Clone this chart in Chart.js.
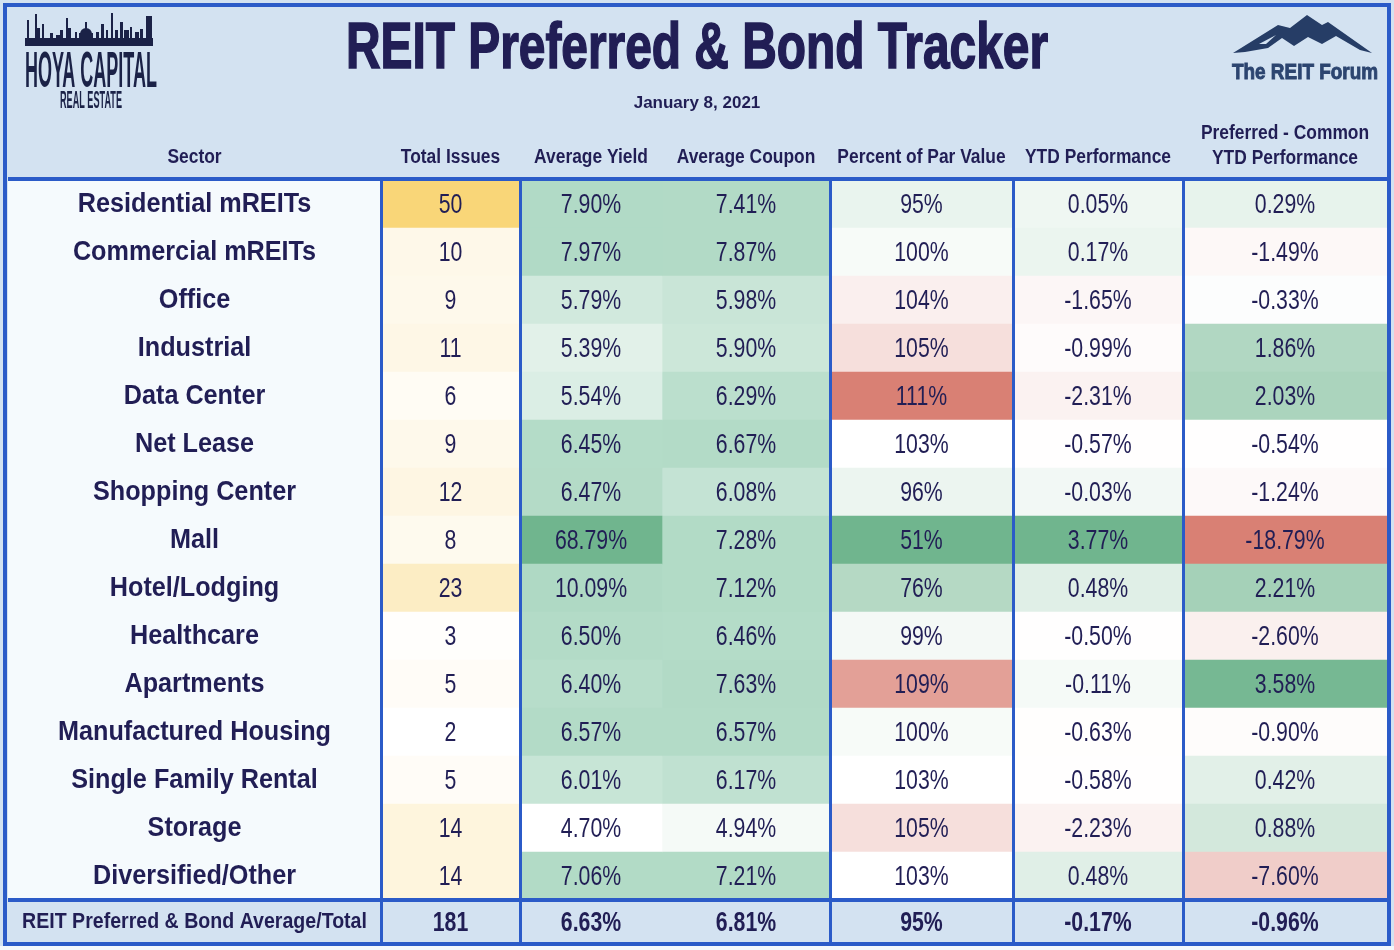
<!DOCTYPE html>
<html>
<head>
<meta charset="utf-8">
<title>REIT Preferred & Bond Tracker</title>
<script src="https://cdn.jsdelivr.net/npm/chart.js@4.4.1/dist/chart.umd.min.js"></script>
<style>
html, body { margin: 0; padding: 0; background: #ffffff; }
#wrap { width: 1394px; height: 950px; }
</style>
</head>
<body>
<div id="wrap"><canvas id="tracker" width="1394" height="950"></canvas></div>
<script>
const SECTORS = [
    'Residential mREITs', 'Commercial mREITs', 'Office', 'Industrial', 'Data Center',
    'Net Lease', 'Shopping Center', 'Mall', 'Hotel/Lodging', 'Healthcare',
    'Apartments', 'Manufactured Housing', 'Single Family Rental', 'Storage', 'Diversified/Other',
];
const TOTAL_ISSUES = [50, 10, 9, 11, 6, 9, 12, 8, 23, 3, 5, 2, 5, 14, 14];
const AVG_YIELD = [7.90, 7.97, 5.79, 5.39, 5.54, 6.45, 6.47, 68.79, 10.09, 6.50, 6.40, 6.57, 6.01, 4.70, 7.06];
const AVG_COUPON = [7.41, 7.87, 5.98, 5.90, 6.29, 6.67, 6.08, 7.28, 7.12, 6.46, 7.63, 6.57, 6.17, 4.94, 7.21];
const PAR_VALUE = [95, 100, 104, 105, 111, 103, 96, 51, 76, 99, 109, 100, 103, 105, 103];
const YTD_PERF = [0.05, 0.17, -1.65, -0.99, -2.31, -0.57, -0.03, 3.77, 0.48, -0.50, -0.11, -0.63, -0.58, -2.23, 0.48];
const PREF_COMMON = [0.29, -1.49, -0.33, 1.86, 2.03, -0.54, -1.24, -18.79, 2.21, -2.60, 3.58, -0.90, 0.42, 0.88, -7.60];

const TOTAL_LABEL = 'REIT Preferred & Bond Average/Total';
const TOTAL_ROW = [181, 6.63, 6.81, 95, -0.17, -0.96];

const HEADERS = ['Sector', 'Total Issues', 'Average Yield', 'Average Coupon', 'Percent of Par Value',
    'YTD Performance', ['Preferred - Common', 'YTD Performance']];

// ---- layout / style ----
const COL_WIDTHS = [373, 139, 142, 168, 183, 170, 204];
const DIVIDERS = [1, 2, 4, 5, 6];          // column edges that get a blue rule
const NAVY = '#211e55';
const BLUE = '#2b5bc8';
const HEAD_BG = '#d3e2f1';
const SECTOR_BG = '#f5fafd';
const WHITE = [255, 255, 255];
const YELLOW = [249, 214, 120];
const GREEN_MID = [179, 219, 199];
const GREEN = [112, 181, 142];
const RED = [217, 128, 116];

const SANS = '"Liberation Sans", Arial, Helvetica, sans-serif';

const edges = COL_WIDTHS.reduce((acc, w) => { acc.push(acc[acc.length - 1] + w); return acc; }, [0]);
const rowLabels = [...SECTORS, TOTAL_LABEL];

function median(values) {
    const s = [...values].sort((a, b) => a - b);
    const m = Math.floor(s.length / 2);
    return s.length % 2 ? s[m] : (s[m - 1] + s[m]) / 2;
}

function mix(a, b, t) {
    t = Math.max(0, Math.min(1, t));
    const c = a.map((v, i) => Math.round(v + (b[i] - v) * t));
    return `rgb(${c[0]},${c[1]},${c[2]})`;
}

// conditional-format style colour scales
function twoScale(v, lo, hi, c0, c1) { return mix(c0, c1, (v - lo) / (hi - lo)); }
function threeScale(v, lo, mid, hi, c0, c1, c2) {
    return v <= mid ? mix(c0, c1, (v - lo) / (mid - lo)) : mix(c1, c2, (v - mid) / (hi - mid));
}

const yc = [...AVG_YIELD, ...AVG_COUPON];
const ycMin = Math.min(...yc), ycMid = median(yc), ycMax = Math.max(...yc);
const perf = [...YTD_PERF, ...PREF_COMMON];
const pMin = Math.min(...perf), pMid = median(perf), pMax = Math.max(...perf);
const parMin = Math.min(...PAR_VALUE), parMid = median(PAR_VALUE), parMax = Math.max(...PAR_VALUE);
const issMin = Math.min(...TOTAL_ISSUES), issMax = Math.max(...TOTAL_ISSUES);

const pct2 = (v) => `${v.toFixed(2)}%`;
const columns = [
    { values: SECTORS, fmt: (v) => v, color: () => SECTOR_BG },
    { values: TOTAL_ISSUES, fmt: (v) => String(v), color: (v) => twoScale(v, issMin, issMax, WHITE, YELLOW) },
    { values: AVG_YIELD, fmt: pct2, color: (v) => threeScale(v, ycMin, ycMid, ycMax, WHITE, GREEN_MID, GREEN) },
    { values: AVG_COUPON, fmt: pct2, color: (v) => threeScale(v, ycMin, ycMid, ycMax, WHITE, GREEN_MID, GREEN) },
    { values: PAR_VALUE, fmt: (v) => `${v}%`, color: (v) => threeScale(v, parMin, parMid, parMax, GREEN, WHITE, RED) },
    { values: YTD_PERF, fmt: pct2, color: (v) => threeScale(v, pMin, pMid, pMax, RED, WHITE, GREEN) },
    { values: PREF_COMMON, fmt: pct2, color: (v) => threeScale(v, pMin, pMid, pMax, RED, WHITE, GREEN) },
];
const totalCells = [TOTAL_LABEL, String(TOTAL_ROW[0]), pct2(TOTAL_ROW[1]), pct2(TOTAL_ROW[2]),
    `${TOTAL_ROW[3]}%`, pct2(TOTAL_ROW[4]), pct2(TOTAL_ROW[5])];

const datasets = columns.map((col, c) => ({
    label: Array.isArray(HEADERS[c]) ? HEADERS[c].join(' ') : HEADERS[c],
    data: rowLabels.map(() => [edges[c], edges[c + 1]]),
    backgroundColor: [...col.values.map((v) => col.color(v)), HEAD_BG],
    borderWidth: 0,
    borderSkipped: false,
    grouped: false,
    barPercentage: 1,
    categoryPercentage: 1,
}));

// text squeezed horizontally, to mimic the condensed face of the original
function squeeze(ctx, text, x, y, font, sx, fitWidth, stroke) {
    ctx.save();
    ctx.font = font;
    ctx.translate(x, y);
    const s = fitWidth ? fitWidth / ctx.measureText(text).width : sx;
    ctx.scale(s, 1);
    ctx.fillText(text, 0, 0);
    if (stroke) ctx.strokeText(text, 0, 0);
    ctx.restore();
}

function drawSkyline(ctx) {
    ctx.fillStyle = '#1b2247';
    ctx.fillRect(25, 38, 128, 8);
    const towers = [[27, 2, 20], [35, 2, 14], [37, 3, 28], [42, 2, 24], [50, 3, 33], [56, 4, 35], [60, 3, 30],
        [66, 2, 18], [68, 3, 28], [75, 2, 32], [96, 3, 32], [101, 3, 24], [106, 2, 30], [111, 2, 13],
        [115, 3, 30], [120, 3, 22], [124, 5, 30], [130, 2, 27], [135, 4, 32], [140, 3, 29], [146, 6, 16]];
    towers.forEach(([x, w, top]) => ctx.fillRect(x, top, w, 39 - top));
    ctx.beginPath();
    ctx.arc(86, 34, 6, Math.PI, 0);
    ctx.fill();
    ctx.fillRect(79, 33, 14, 6);
    ctx.fillRect(85, 22, 2, 8);

    ctx.textAlign = 'center';
    ctx.textBaseline = 'alphabetic';
    squeeze(ctx, 'HOYA CAPITAL', 91, 87, `bold 50px ${SANS}`, 1, 132);
    squeeze(ctx, 'REAL ESTATE', 91, 108, `bold 23px ${SANS}`, 1, 62);
}

function drawMountain(ctx) {
    ctx.fillStyle = '#263d66';
    const pts = [[1233, 53], [1278, 25], [1290, 28], [1307, 15], [1322, 25], [1328, 22], [1372, 53],
        [1360, 50], [1336, 36], [1322, 44], [1308, 37], [1294, 46], [1282, 38], [1268, 48], [1245, 52]];
    ctx.beginPath();
    pts.forEach(([x, y], i) => (i ? ctx.lineTo(x, y) : ctx.moveTo(x, y)));
    ctx.closePath();
    ctx.fill();
    ctx.fillStyle = HEAD_BG;
    ctx.beginPath();
    ctx.moveTo(1259, 44);
    ctx.lineTo(1276, 35);
    ctx.lineTo(1266, 44);
    ctx.closePath();
    ctx.fill();
    ctx.fillStyle = '#2c4570';
    ctx.strokeStyle = '#2c4570';
    ctx.lineWidth = 0.9;
    ctx.textAlign = 'center';
    ctx.textBaseline = 'alphabetic';
    squeeze(ctx, 'The REIT Forum', 1305, 79, `bold 22px ${SANS}`, 1, 146, true);
}

const tableDecor = {
    id: 'tableDecor',
    beforeDraw(chart) {
        const { ctx, width, height } = chart;
        ctx.save();
        ctx.fillStyle = HEAD_BG;
        ctx.fillRect(0, 0, width, height);
        ctx.restore();
    },
    afterDatasetsDraw(chart) {
        const { ctx } = chart;
        const last = rowLabels.length - 1;
        ctx.save();
        ctx.fillStyle = NAVY;
        ctx.textAlign = 'center';
        ctx.textBaseline = 'middle';
        columns.forEach((col, c) => {
            chart.getDatasetMeta(c).data.forEach((el, i) => {
                const cx = (el.x + el.base) / 2;
                if (i === last) {
                    if (c === 0) squeeze(ctx, totalCells[c], cx, el.y - 2, `bold 22px ${SANS}`, 0.89);
                    else squeeze(ctx, totalCells[c], cx, el.y - 1, `bold 28px ${SANS}`, 0.76);
                } else if (c === 0) {
                    squeeze(ctx, col.fmt(col.values[i]), cx, el.y, `bold 28px ${SANS}`, 0.9);
                } else {
                    squeeze(ctx, col.fmt(col.values[i]), cx, el.y + 1, `28px ${SANS}`, 0.76);
                }
            });
        });
        ctx.restore();
    },
    afterDraw(chart) {
        const { ctx, chartArea, scales, width, height } = chart;
        const els = chart.getDatasetMeta(0).data;
        const footTop = els[els.length - 1].y - els[els.length - 1].height / 2;
        ctx.save();

        // page margin below the frame
        ctx.fillStyle = '#f4f8fc';
        ctx.fillRect(0, 946, width, height - 946);

        // rules
        ctx.strokeStyle = BLUE;
        ctx.lineWidth = 3;
        DIVIDERS.forEach((k) => {
            const x = Math.round(scales.x.getPixelForValue(edges[k])) + 0.5;
            ctx.beginPath();
            ctx.moveTo(x, chartArea.top);
            ctx.lineTo(x, 944);
            ctx.stroke();
        });
        ctx.lineWidth = 4;
        [chartArea.top - 1, footTop].forEach((y) => {
            ctx.beginPath();
            ctx.moveTo(chartArea.left, y);
            ctx.lineTo(chartArea.right, y);
            ctx.stroke();
        });
        ctx.strokeRect(5, 5, 1384, 939);

        // title block
        ctx.fillStyle = NAVY;
        ctx.strokeStyle = NAVY;
        ctx.lineWidth = 1.6;
        ctx.textAlign = 'center';
        ctx.textBaseline = 'alphabetic';
        squeeze(ctx, 'REIT Preferred & Bond Tracker', 697, 68, `bold 64px ${SANS}`, 1, 702, true);
        ctx.font = `bold 17px ${SANS}`;
        ctx.fillText('January 8, 2021', 697, 108);

        // column headers
        ctx.textBaseline = 'middle';
        HEADERS.forEach((h, c) => {
            const cx = scales.x.getPixelForValue((edges[c] + edges[c + 1]) / 2);
            const f = `bold 20px ${SANS}`;
            if (Array.isArray(h)) {
                squeeze(ctx, h[0], cx, 133, f, 0.87);
                squeeze(ctx, h[1], cx, 158, f, 0.87);
            } else {
                squeeze(ctx, h, cx, 157, f, 0.87);
            }
        });

        drawSkyline(ctx);
        drawMountain(ctx);
        ctx.restore();
    },
};

new Chart(document.getElementById('tracker'), {
    type: 'bar',
    data: { labels: rowLabels, datasets },
    options: {
        indexAxis: 'y',
        responsive: false,
        animation: false,
        layout: { padding: { left: 8, right: 7, top: 180, bottom: 2 } },
        plugins: { legend: { display: false }, tooltip: { enabled: false } },
        scales: {
            x: { type: 'linear', min: 0, max: edges[edges.length - 1], display: false },
            y: { type: 'category', display: false },
        },
    },
    plugins: [tableDecor],
});
</script>
</body>
</html>
